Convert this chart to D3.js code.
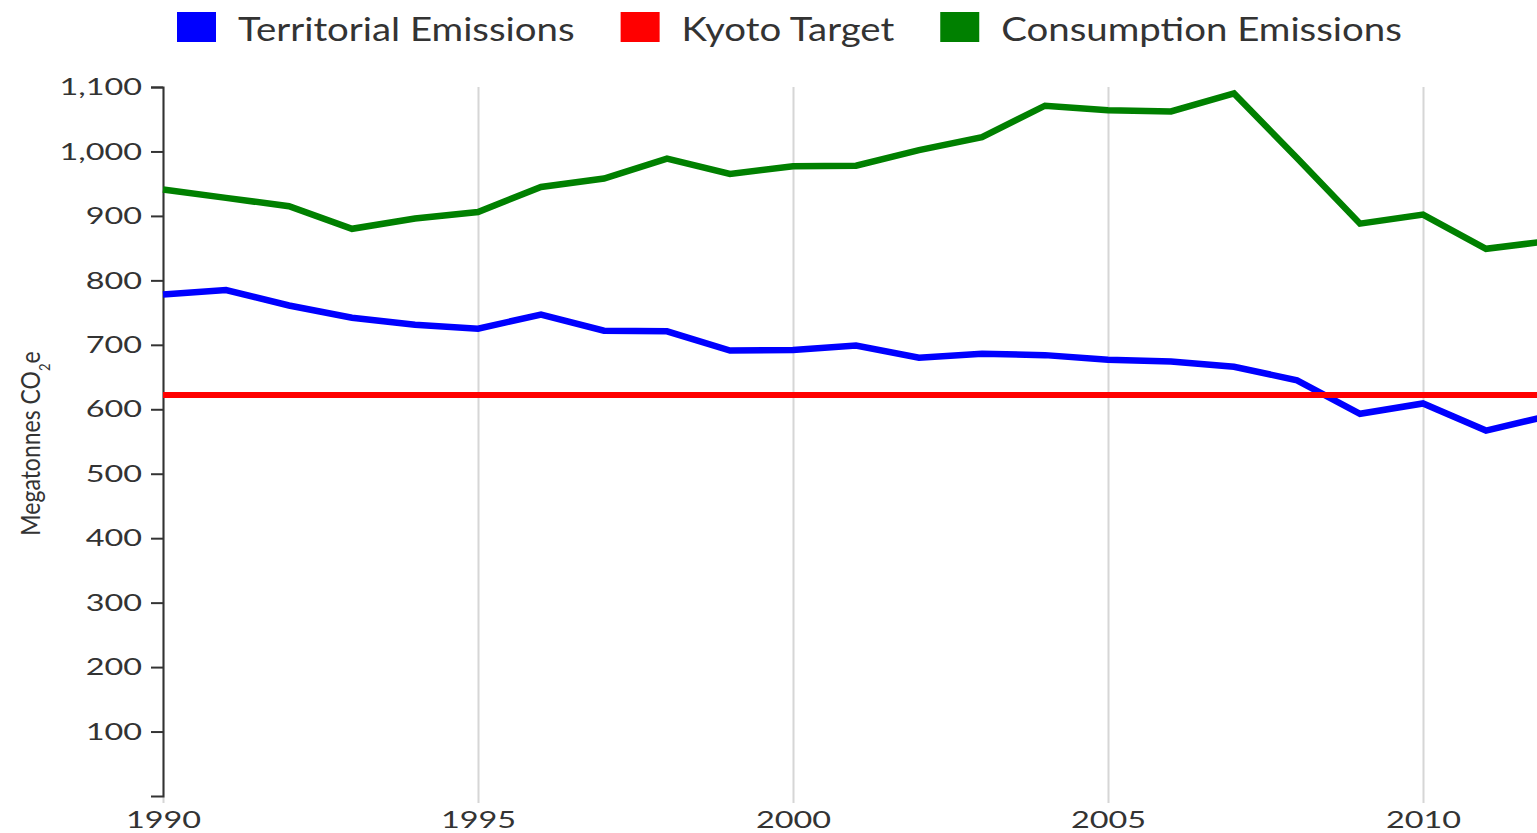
<!DOCTYPE html>
<html>
<head>
<meta charset="utf-8">
<script src="https://cdn.jsdelivr.net/npm/d3@7"></script>
<style>
  html, body { margin: 0; padding: 0; background: #fff; overflow: hidden; }
  text { font-family: Lato, "Open Sans", sans-serif; }
</style>
</head>
<body>
<div id="chart"></div>
<script>
// data (megatonnes CO2e)
var years = [1990, 1991, 1992, 1993, 1994, 1995, 1996, 1997, 1998, 1999, 2000,
             2001, 2002, 2003, 2004, 2005, 2006, 2007, 2008, 2009, 2010, 2011, 2012];
var territorial = [778, 785, 761, 742, 731, 725, 747, 722, 721, 691, 692,
                   699, 680, 686, 684, 677, 674, 666, 645, 593, 609, 567, 590];
var kyoto = [622, 622, 622, 622, 622, 622, 622, 622, 622, 622, 622,
             622, 622, 622, 622, 622, 622, 622, 622, 622, 622, 622, 622];
var consumption = [941, 928, 915, 880, 896, 906, 945, 958, 989, 965, 977,
                   978, 1002, 1022, 1071, 1064, 1062, 1090, 990, 888, 902, 849, 861];
var seriesNames = ["Territorial Emissions", "Kyoto Target", "Consumption Emissions"];
var seriesColors = ["#0000ff", "#ff0000", "#008000"];
var yTicks = [100, 200, 300, 400, 500, 600, 700, 800, 900, 1000, 1100];
var xTicks = [1990, 1995, 2000, 2005, 2010];

window.onload = function() {
  var svgWidth = 1537, svgHeight = 833;
  var left = 163, top = 87, bottom = 796, axisBottom = 803;
  var stretch = 1.2;   // the picture is a bit wide, text too
  var tickStretch = 1.35;

  var svg = d3.select("#chart").append("svg")
      .attr("width", svgWidth)
      .attr("height", svgHeight);

  var x = d3.scaleLinear()
      .domain([1990, 2012])
      .range([left, left + 63 * 22]);
  var y = d3.scaleLinear()
      .domain([0, 1100])
      .range([bottom, top]);

  // vertical gridlines are the x axis ticks
  var xAxis = svg.append("g")
      .attr("transform", "translate(0," + axisBottom + ")")
      .call(d3.axisBottom(x)
          .tickValues(xTicks)
          .tickSize(-(axisBottom - top))
          .tickPadding(8)
          .tickFormat(d3.format("d")));
  xAxis.select(".domain").remove();
  xAxis.selectAll("line").attr("stroke", "#d6d6d6").attr("stroke-width", 2);
  xAxis.selectAll("text")
      .attr("fill", "#333")
      .style("font-size", "24px")
      .attr("transform", "scale(" + tickStretch + ",1)");

  // y axis
  var yAxis = svg.append("g")
      .attr("transform", "translate(" + left + ",0)")
      .call(d3.axisLeft(y)
          .tickValues(yTicks)
          .tickSizeInner(12)
          .tickSizeOuter(12)
          .tickFormat(d3.format(",")));
  yAxis.select(".domain").attr("stroke", "#333").attr("stroke-width", 2);
  yAxis.selectAll("line").attr("stroke", "#333").attr("stroke-width", 2);
  yAxis.selectAll("text")
      .attr("fill", "#333")
      .style("font-size", "24px")
      .attr("x", -21 / tickStretch)
      .attr("transform", "scale(" + tickStretch + ",1)");

  // y axis title
  var title = svg.append("text")
      .attr("transform", "translate(40," + ((top + bottom) / 2 + 2) + ") rotate(-90) scale(1," + stretch + ")")
      .attr("text-anchor", "middle")
      .attr("fill", "#333")
      .style("font-size", "23px");
  title.append("tspan").text("Megatonnes CO");
  title.append("tspan").attr("baseline-shift", "sub").style("font-size", "13px").text("2");
  title.append("tspan").text("e");

  // lines
  var line = d3.line()
      .x(function(d, i) { return x(years[i]); })
      .y(function(d) { return y(d); });

  var series = [territorial, kyoto, consumption];
  var widths = [6.5, 6, 6.5];
  series.forEach(function(s, i) {
    svg.append("path")
        .datum(s)
        .attr("fill", "none")
        .attr("stroke", seriesColors[i])
        .attr("stroke-width", widths[i])
        .attr("d", line);
  });

  // legend along the top
  var lx = 177;
  seriesNames.forEach(function(name, i) {
    var g = svg.append("g").attr("transform", "translate(" + lx + ",0)");
    g.append("rect")
        .attr("x", 0).attr("y", 12)
        .attr("width", 39).attr("height", 30)
        .attr("fill", seriesColors[i]);
    var t = g.append("text")
        .attr("x", 61 / stretch)
        .attr("y", 41)
        .attr("fill", "#333")
        .style("font-size", "32px")
        .attr("transform", "scale(" + stretch + ",1)")
        .text(name);
    lx += 61 + t.node().getComputedTextLength() * stretch + 46;
  });
};
</script>
</body>
</html>
